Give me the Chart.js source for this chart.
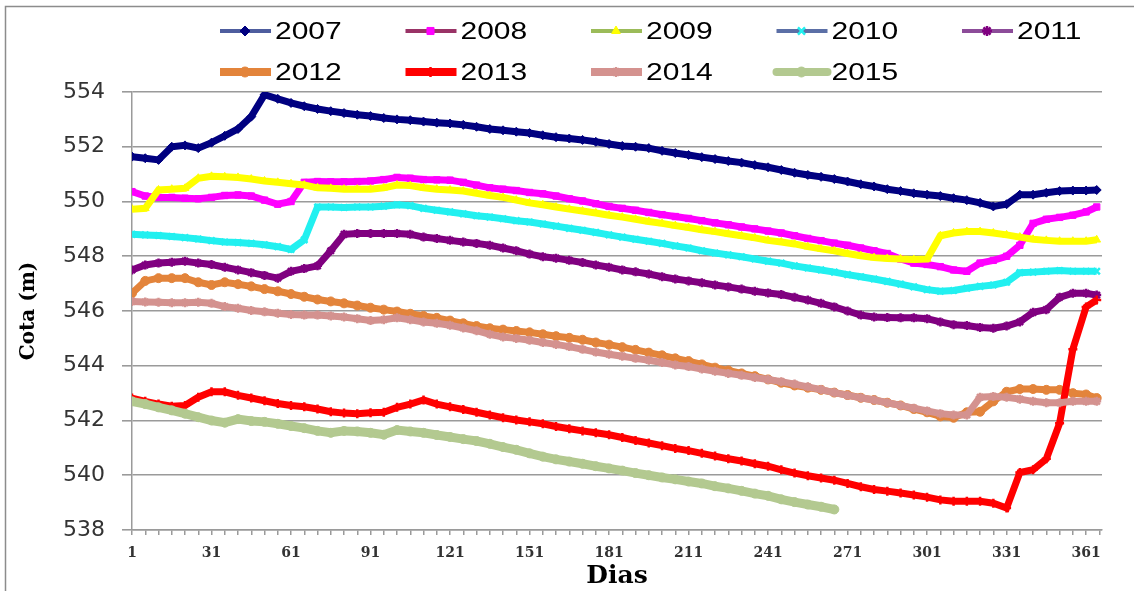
<!DOCTYPE html>
<html>
<head>
<meta charset="utf-8">
<title>Cota diaria 2007-2015</title>
<script src="https://cdn.jsdelivr.net/npm/chart.js@4.4.1/dist/chart.umd.min.js"></script>
<style>
  html, body { margin: 0; padding: 0; background: #fff; }
  #wrap { width: 1134px; height: 591px; position: relative; }
</style>
</head>
<body>
<div id="wrap"><canvas id="cotaChart"></canvas></div>
<script>
const days = [1, 6, 11, 16, 21, 26, 31, 36, 41, 46, 51, 56, 61, 66, 71, 76, 81, 86, 91, 96,
  101, 106, 111, 116, 121, 126, 131, 136, 141, 146, 151, 156, 161, 166, 171, 176, 181, 186, 191, 196,
  201, 206, 211, 216, 221, 226, 231, 236, 241, 246, 251, 256, 261, 266, 271, 276, 281, 286, 291, 296,
  301, 306, 311, 316, 321, 326, 331, 336, 341, 346, 351, 356, 361, 365];

const years = ["2007", "2008", "2009", "2010", "2011", "2012", "2013", "2014", "2015"];

const cota2007 = [551.64, 551.58, 551.52, 552.0, 552.05, 551.95, 552.15, 552.4, 552.65, 553.1,
  553.9, 553.75, 553.6, 553.48, 553.38, 553.3, 553.23, 553.17, 553.12, 553.05,
  553.0, 552.97, 552.92, 552.88, 552.85, 552.8, 552.73, 552.65, 552.6, 552.55,
  552.5, 552.42, 552.35, 552.3, 552.25, 552.18, 552.1, 552.03, 552.0, 551.95,
  551.85, 551.77, 551.7, 551.62, 551.55, 551.48, 551.42, 551.33, 551.25, 551.15,
  551.05, 550.97, 550.9, 550.82, 550.73, 550.63, 550.55, 550.45, 550.38, 550.3,
  550.25, 550.2, 550.12, 550.05, 549.95, 549.82, 549.9, 550.25, 550.25, 550.32,
  550.38, 550.4, 550.4, 550.42];
const cota2008 = [550.36, 550.2, 550.15, 550.15, 550.12, 550.1, 550.15, 550.22, 550.24, 550.2,
  550.05, 549.9, 550.0, 550.7, 550.73, 550.72, 550.72, 550.73, 550.75, 550.8,
  550.88, 550.85, 550.8, 550.79, 550.78, 550.7, 550.6, 550.5, 550.45, 550.4,
  550.33, 550.28, 550.2, 550.1, 550.02, 549.92, 549.82, 549.75, 549.68, 549.6,
  549.52, 549.45, 549.38, 549.3, 549.22, 549.15, 549.07, 549.0, 548.92, 548.85,
  548.75, 548.65, 548.57, 548.48, 548.4, 548.3, 548.2, 548.1, 547.9, 547.75,
  547.7, 547.62, 547.5, 547.45, 547.75, 547.85, 548.0, 548.4, 549.2, 549.35,
  549.42, 549.5, 549.62, 549.8];
const cota2009 = [549.72, 549.75, 550.42, 550.45, 550.48, 550.85, 550.92, 550.9, 550.88, 550.82,
  550.75, 550.7, 550.65, 550.6, 550.5, 550.48, 550.45, 550.45, 550.45, 550.5,
  550.6, 550.58, 550.5, 550.45, 550.42, 550.38, 550.3, 550.22, 550.15, 550.05,
  549.95, 549.88, 549.8, 549.72, 549.65, 549.58, 549.5, 549.43, 549.35, 549.27,
  549.2, 549.12, 549.05, 548.97, 548.9, 548.82, 548.75, 548.67, 548.58, 548.52,
  548.45, 548.35, 548.27, 548.2, 548.1, 548.02, 547.95, 547.92, 547.9, 547.88,
  547.9, 548.75, 548.85, 548.9, 548.9, 548.85, 548.78, 548.7, 548.62, 548.58,
  548.55, 548.55, 548.55, 548.6];
const cota2010 = [548.8, 548.78, 548.76, 548.72, 548.68, 548.63, 548.57, 548.52, 548.5, 548.47,
  548.42, 548.35, 548.25, 548.6, 549.8, 549.8, 549.78, 549.8, 549.8, 549.83,
  549.88, 549.85, 549.75, 549.68, 549.62, 549.55, 549.48, 549.43, 549.37, 549.3,
  549.25, 549.18, 549.1, 549.02, 548.95, 548.87, 548.78, 548.7, 548.62, 548.55,
  548.47, 548.38, 548.3, 548.2, 548.12, 548.05, 547.98, 547.9, 547.82, 547.75,
  547.65, 547.57, 547.5, 547.42, 547.33, 547.25, 547.17, 547.08, 546.98, 546.88,
  546.78, 546.72, 546.75, 546.83, 546.9, 546.95, 547.05, 547.4, 547.42, 547.45,
  547.48, 547.45, 547.45, 547.45];
const cota2011 = [547.5, 547.68, 547.75, 547.78, 547.82, 547.75, 547.7, 547.6, 547.5, 547.4,
  547.3, 547.2, 547.45, 547.55, 547.65, 548.2, 548.8, 548.83, 548.83, 548.83,
  548.83, 548.8, 548.7, 548.65, 548.58, 548.52, 548.47, 548.4, 548.3, 548.2,
  548.08, 547.98, 547.93, 547.85, 547.77, 547.68, 547.6, 547.5, 547.43, 547.35,
  547.25, 547.17, 547.1, 547.03, 546.95, 546.88, 546.8, 546.72, 546.66, 546.6,
  546.5, 546.4, 546.28, 546.15, 546.0, 545.85, 545.78, 545.76, 545.75, 545.75,
  545.72, 545.6, 545.5, 545.47, 545.4, 545.37, 545.45, 545.6, 545.95, 546.05,
  546.5, 546.65, 546.65, 546.58];
const cota2012 = [546.65, 547.1, 547.2, 547.2, 547.2, 547.05, 546.95, 547.05, 546.98, 546.9,
  546.8, 546.72, 546.62, 546.52, 546.42, 546.35, 546.28, 546.2, 546.12, 546.05,
  545.98, 545.9, 545.82, 545.75, 545.65, 545.55, 545.45, 545.37, 545.32, 545.27,
  545.22, 545.15, 545.08, 545.02, 544.95, 544.85, 544.77, 544.68, 544.58, 544.48,
  544.38, 544.27, 544.17, 544.05, 543.93, 543.83, 543.72, 543.62, 543.5, 543.38,
  543.28, 543.2, 543.12, 543.02, 542.93, 542.83, 542.75, 542.65, 542.55, 542.42,
  542.3, 542.15, 542.1, 542.3, 542.32, 542.7, 543.05, 543.15, 543.15, 543.12,
  543.12, 543.0, 542.95, 542.82];
const cota2013 = [542.82, 542.7, 542.6, 542.52, 542.55, 542.85, 543.05, 543.05, 542.92, 542.82,
  542.72, 542.62, 542.55, 542.5, 542.42, 542.32, 542.27, 542.25, 542.28, 542.3,
  542.48, 542.6, 542.75, 542.6, 542.5, 542.4, 542.3, 542.2, 542.1, 542.02,
  541.95, 541.88, 541.78, 541.7, 541.62, 541.55, 541.48, 541.38, 541.27, 541.18,
  541.08, 540.98, 540.9, 540.8, 540.7, 540.6, 540.52, 540.42, 540.33, 540.2,
  540.08, 539.98, 539.9, 539.82, 539.7, 539.58, 539.48, 539.42, 539.35, 539.28,
  539.2, 539.1, 539.05, 539.05, 539.05, 538.98, 538.8, 540.1, 540.2, 540.6,
  541.9, 544.6, 546.15, 546.4];
const cota2014 = [546.35, 546.33, 546.32, 546.3, 546.3, 546.32, 546.28, 546.16, 546.1, 546.02,
  545.97, 545.92, 545.87, 545.85, 545.85, 545.82, 545.78, 545.72, 545.65, 545.68,
  545.75, 545.68, 545.6, 545.55, 545.48, 545.38, 545.28, 545.15, 545.05, 545.0,
  544.93, 544.85, 544.78, 544.7, 544.6, 544.5, 544.42, 544.35, 544.27, 544.2,
  544.12, 544.03, 543.97, 543.88, 543.8, 543.72, 543.65, 543.57, 543.5, 543.42,
  543.33, 543.23, 543.13, 543.02, 542.92, 542.83, 542.75, 542.65, 542.55, 542.45,
  542.35, 542.25, 542.2, 542.2, 542.85, 542.88, 542.85, 542.78, 542.7, 542.65,
  542.65, 542.7, 542.7, 542.7];
// 2015 only runs to day 266
const cota2015 = [542.7, 542.6, 542.48, 542.37, 542.25, 542.12, 542.0, 541.92, 542.05, 541.98,
  541.95, 541.88, 541.8, 541.72, 541.62, 541.55, 541.62, 541.6, 541.55, 541.48,
  541.65, 541.6, 541.55, 541.47, 541.4, 541.32, 541.25, 541.15, 541.03, 540.93,
  540.8, 540.68, 540.58, 540.5, 540.42, 540.33, 540.25, 540.17, 540.08, 540.0,
  539.92, 539.85, 539.77, 539.7, 539.6, 539.52, 539.43, 539.33, 539.25, 539.12,
  539.02, 538.93, 538.85, 538.75];

const series = [cota2007, cota2008, cota2009, cota2010, cota2011, cota2012, cota2013, cota2014, cota2015];

const xLabels = [1, 31, 61, 91, 121, 151, 181, 211, 241, 271, 301, 331, 361];
const xTickDays = [];
for (let d = 1; d <= 366; d += 5) xTickDays.push(d);

// styles
const bandColors = ["#000080", "#FF00FF", "#FFFF00", "#22F0F0", "#800080", "#E3843B", "#FF0000", "#D4928F", "#B3C990"];
const lineColors = ["#4E5D9E", "#993366", "#9BBB59", "#5B6FA6", "#8C4C99", "#E3843B", "#FF0000", "#D4928F", "#B3C990"];
const markers = ["rectRot", "rect", "triangle", "crossRot", "star", "circle", "cross", "star", "circle"];
const strokeMarkers = ["crossRot", "star", "cross"];

const gridColor = "#9a9a9a";

const datasets = years.map((year, i) => ({
    label: year,
    data: series[i].map((v, k) => ({ x: days[k], y: v })),
    borderColor: bandColors[i],
    backgroundColor: bandColors[i],
    borderWidth: i === 8 ? 9 : 7,
    pointStyle: markers[i],
    pointRadius: 4.5,
    pointBackgroundColor: bandColors[i],
    pointBorderColor: bandColors[i],
    pointBorderWidth: strokeMarkers.includes(markers[i]) ? 2.5 : 1,
    tension: 0,
    order: years.length - 1 - i
}));

// legend drawn by hand: two rows, second row left aligned like the original
const yearLegend = {
    id: "yearLegend",
    afterDraw(chart) {
        const ctx = chart.ctx;
        chart.data.datasets.forEach((ds, i) => {
            const x = 220 + (i % 5) * 185.5;
            const y = i < 5 ? 31 : 72;
            ctx.save();
            ctx.strokeStyle = lineColors[i];
            ctx.lineWidth = i < 5 ? 4 : 8;
            ctx.lineCap = i === 8 ? "round" : "butt";
            ctx.beginPath();
            ctx.moveTo(x, y);
            ctx.lineTo(x + 51, y);
            ctx.stroke();
            ctx.fillStyle = ds.pointBackgroundColor;
            ctx.strokeStyle = ds.pointBorderColor;
            ctx.lineWidth = ds.pointBorderWidth;
            if (Chart.helpers && Chart.helpers.drawPoint) {
                Chart.helpers.drawPoint(ctx, {
                    pointStyle: ds.pointStyle, radius: 5, rotation: 0, borderWidth: ds.pointBorderWidth
                }, x + 25, y);
            }
            ctx.fillStyle = "#000";
            ctx.font = "24px 'Liberation Sans', Arial, sans-serif";
            ctx.textBaseline = "middle";
            ctx.translate(x + 55, y);
            ctx.scale(1.25, 1);
            ctx.fillText(ds.label, 0, 1);
            ctx.restore();
        });
    }
};

const frame = {
    id: "frame",
    afterDraw(chart) {
        const ctx = chart.ctx;
        ctx.save();
        ctx.strokeStyle = "#8c8c8c";
        ctx.lineWidth = 1.5;
        ctx.beginPath();
        ctx.moveTo(1134, 6.5);
        ctx.lineTo(5.5, 6.5);
        ctx.lineTo(5.5, 591);
        ctx.stroke();
        ctx.restore();
    }
};

new Chart(document.getElementById("cotaChart"), {
    type: "line",
    data: { datasets },
    plugins: [yearLegend, frame],
    options: {
        responsive: true,
        maintainAspectRatio: false,
        animation: false,
        layout: { padding: { top: 92, right: 32, bottom: 0, left: 0 } },
        plugins: {
            legend: { display: false },
            tooltip: { enabled: false }
        },
        scales: {
            x: {
                type: "linear",
                min: 1,
                max: 367,
                afterBuildTicks: (scale) => {
                    scale.ticks = xTickDays.map(v => ({ value: v }));
                },
                afterFit: (scale) => { scale.height = 61; },
                ticks: {
                    autoSkip: false,
                    maxRotation: 0,
                    minRotation: 0,
                    padding: 10,
                    color: "#333",
                    font: { family: "'DejaVu Serif'", weight: "bold", size: 14 },
                    callback: (v) => xLabels.includes(v) ? String(v) : ""
                },
                grid: { drawOnChartArea: false, drawTicks: true, tickLength: 5, color: gridColor, lineWidth: 1.5 },
                border: { display: true, color: gridColor, width: 1.5 },
                title: {
                    display: true,
                    text: "Dias",
                    color: "#000",
                    padding: { top: 0, bottom: 0 },
                    font: { family: "'DejaVu Serif'", weight: "bold", size: 25 }
                }
            },
            y: {
                min: 538,
                max: 554,
                afterFit: (scale) => { scale.width = 132; },
                ticks: {
                    stepSize: 1,
                    padding: 17,
                    color: "#333",
                    font: { family: "'DejaVu Sans'", size: 22 }
                },
                grid: { color: gridColor, lineWidth: 1.6, tickLength: 10 },
                border: { display: true, color: gridColor, width: 1.5 },
                title: {
                    display: true,
                    text: "Cota (m)",
                    color: "#000",
                    padding: { top: 17, bottom: 0 },
                    font: { family: "'DejaVu Serif'", weight: "bold", size: 20 }
                }
            }
        }
    }
});
</script>
</body>
</html>
